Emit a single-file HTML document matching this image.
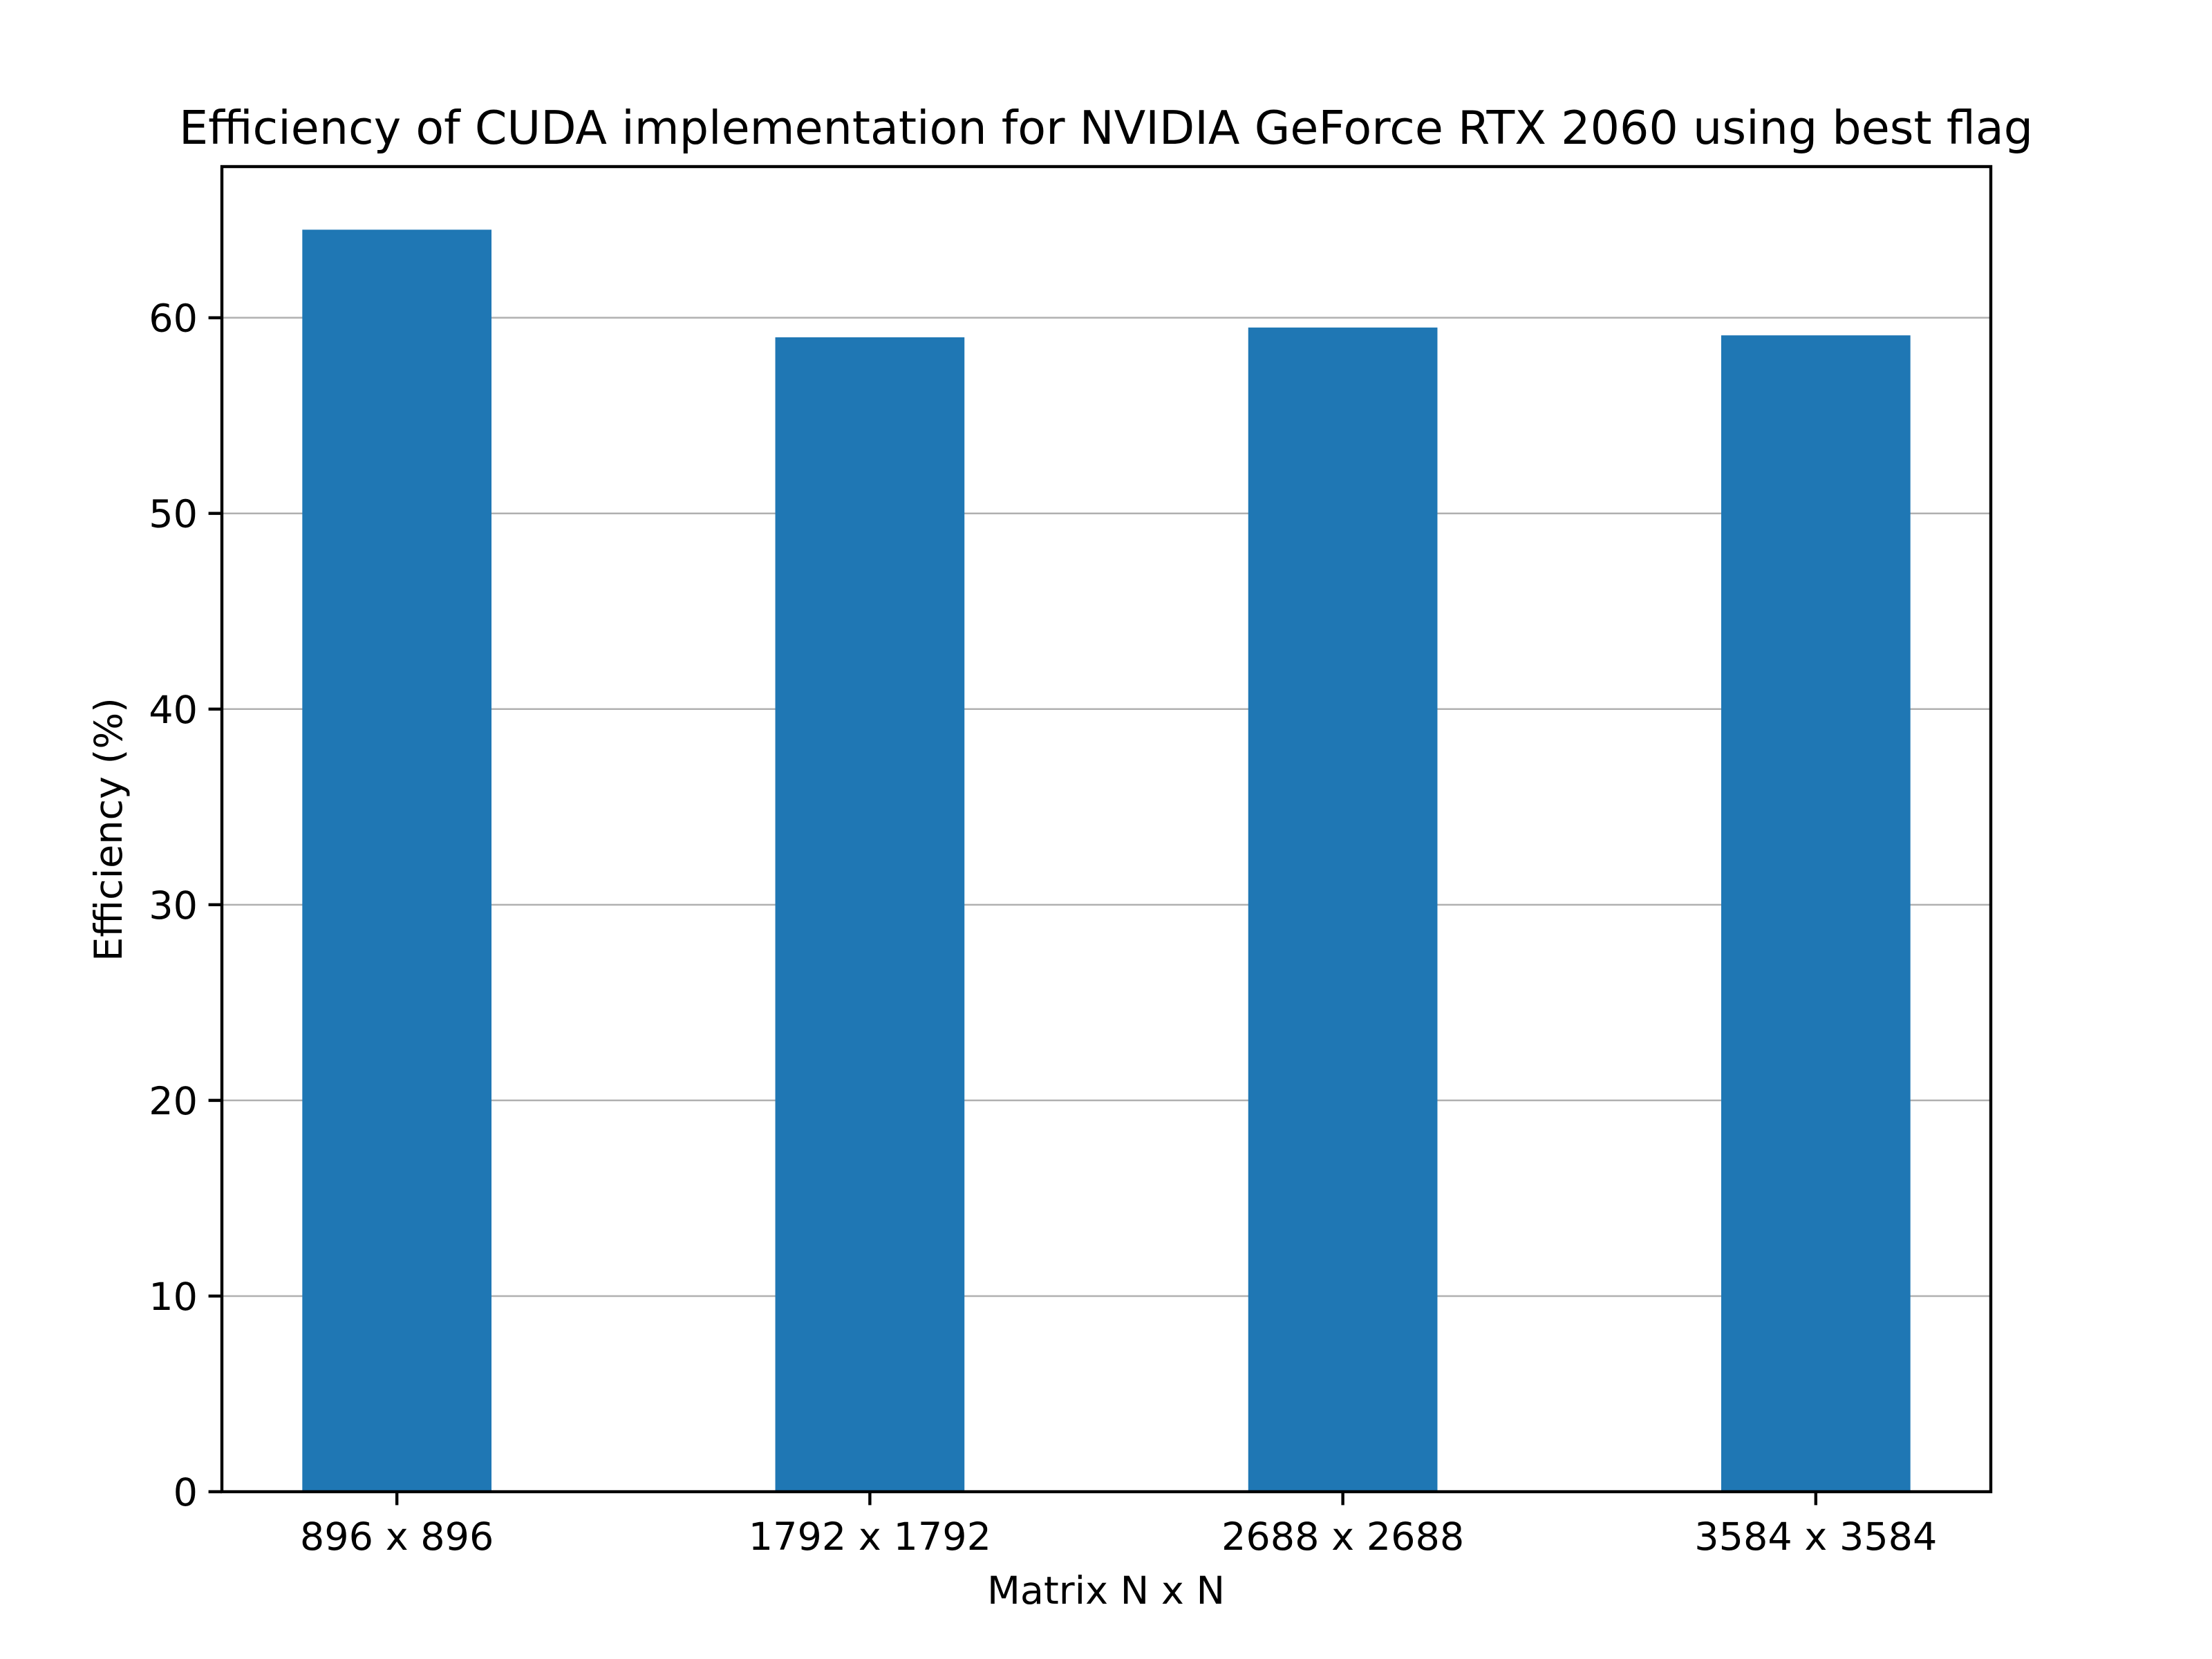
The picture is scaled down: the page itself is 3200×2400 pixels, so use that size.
<!DOCTYPE html>
<html><head><meta charset="utf-8"><style>
html,body{margin:0;padding:0;background:#fff;}
svg{display:block;font-family:"DejaVu Sans","Liberation Sans",sans-serif;}
</style></head><body>
<svg id="chart" width="3200" height="2400" viewBox="0 0 3200 2400" xmlns="http://www.w3.org/2000/svg">
<rect width="3200" height="2400" fill="#fff"/>
<text x="1600" y="208" text-anchor="middle" font-size="66.7" fill="#000">Efficiency of CUDA implementation for NVIDIA GeForce RTX 2060 using best flag</text>
<g id="grid"></g>
<g id="bars"></g>
<g id="yticks"></g>
<g id="xticks"></g>
<rect x="321" y="241" width="2559" height="1917" fill="none" stroke="#000" stroke-width="4.4"/>
<text x="1600" y="2320" text-anchor="middle" font-size="55.6">Matrix N x N</text>
<text transform="translate(176,1200) rotate(-90)" text-anchor="middle" font-size="55.6">Efficiency (%)</text>
</svg>
<script>
const categories = ["896 x 896", "1792 x 1792", "2688 x 2688", "3584 x 3584"];
const efficiency = [64.5, 59.0, 59.5, 59.1];
const yTicks = [0, 10, 20, 30, 40, 50, 60];

const NS = "http://www.w3.org/2000/svg";
const L = 321, R = 2880, T = 241, B = 2158;
const yMax = Math.max(...efficiency) * 1.05;
const xMin = -0.37, xMax = categories.length - 1 + 0.37;
const sx = v => L + (v - xMin) / (xMax - xMin) * (R - L);
const sy = v => B - v / yMax * (B - T);
function mk(tag, attrs, parent) {
  const e = document.createElementNS(NS, tag);
  for (const k in attrs) e.setAttribute(k, attrs[k]);
  parent.appendChild(e);
  return e;
}
const grid = document.getElementById('grid');
const bars = document.getElementById('bars');
const yt = document.getElementById('yticks');
const xt = document.getElementById('xticks');
yTicks.forEach(t => {
  const y = sy(t);
  const g = mk('line', {x1: L, x2: R, y1: y, y2: y, stroke: '#b0b0b0', 'stroke-width': 2.5}, grid);
  
  
  const tk = mk('line', {x1: L - 19.4, x2: L, y1: y, y2: y, stroke: '#000', 'stroke-width': 4.4}, yt);
  
  
  const lb = mk('text', {x: L - 35, y: y + 20, 'text-anchor': 'end', 'font-size': 55.6}, yt);
  lb.textContent = t;
  
  
});
categories.forEach((c, i) => {
  const x0 = sx(i - 0.2), x1 = sx(i + 0.2);
  const b = mk('rect', {x: x0, y: sy(efficiency[i]), width: x1 - x0, height: B - sy(efficiency[i]), fill: '#1f77b4'}, bars);
  
  
  const tk = mk('line', {x1: sx(i), x2: sx(i), y1: B, y2: B + 19.4, stroke: '#000', 'stroke-width': 4.4}, xt);
  
  
  const lb = mk('text', {x: sx(i), y: B + 84, 'text-anchor': 'middle', 'font-size': 55.6}, xt);
  lb.textContent = c;
  
  
});
</script>
</body></html>
